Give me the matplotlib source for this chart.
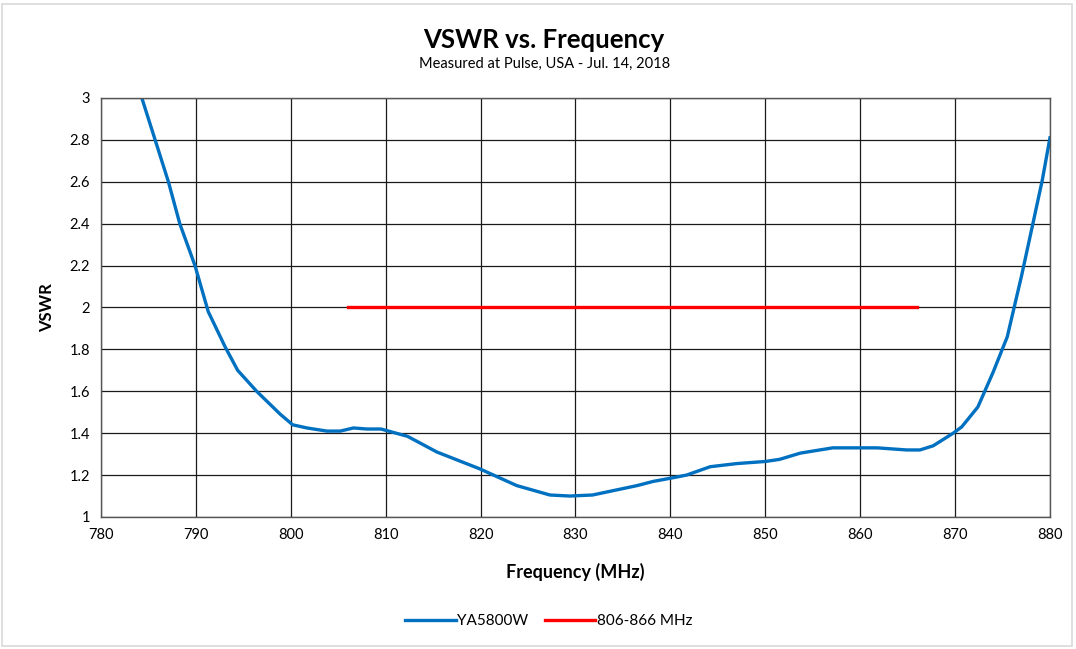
import matplotlib.pyplot as plt
from matplotlib.patches import Rectangle

plt.rcParams['font.family'] = ['Lato', 'DejaVu Sans']

# measured VSWR curve
freq = [784.3, 785.7, 787.1, 788.3, 789.9, 791.3, 793.1, 794.4, 796.4, 798.9,
        800.2, 801.7, 803.8, 805.2, 806.6, 808.0, 809.5, 812.3, 815.4, 819.9,
        823.8, 827.3, 829.4, 831.8, 836.5, 838.2, 840.0, 841.7, 844.2, 847.0,
        850.0, 851.5, 853.7, 857.1, 861.8, 864.9, 866.3, 867.7, 869.8, 870.7,
        872.4, 874.0, 875.5, 877.0, 878.2, 879.2, 880.0]
vswr = [3.00, 2.80, 2.60, 2.40, 2.20, 1.98, 1.81, 1.70, 1.60, 1.49,
        1.44, 1.425, 1.41, 1.41, 1.425, 1.42, 1.42, 1.385, 1.31, 1.23,
        1.15, 1.105, 1.10, 1.105, 1.15, 1.17, 1.185, 1.20, 1.24, 1.255,
        1.265, 1.275, 1.305, 1.33, 1.33, 1.32, 1.32, 1.34, 1.40, 1.43,
        1.525, 1.69, 1.86, 2.15, 2.40, 2.61, 2.81]

band_freq = [806, 866]
band_vswr = [2, 2]

fig = plt.figure(figsize=(10.76, 6.49), dpi=100)
ax = fig.add_axes([0.0939, 0.2034, 0.8819, 0.6456])

ax.plot(freq, vswr, color='#0070C0', linewidth=2.4, label='YA5800W')
ax.plot(band_freq, band_vswr, color='#FF0000', linewidth=2.4, label='806-866 MHz')

ax.set_xlim(780, 880)
ax.set_ylim(1, 3)
ax.set_xticks(range(780, 881, 10))
ax.set_yticks([1, 1.2, 1.4, 1.6, 1.8, 2, 2.2, 2.4, 2.6, 2.8, 3])
ax.set_yticklabels(['1', '1.2', '1.4', '1.6', '1.8', '2', '2.2', '2.4', '2.6', '2.8', '3'])
ax.grid(True, color='#1a1a1a', linewidth=0.9)
ax.set_axisbelow(True)
ax.tick_params(length=0, labelsize=10.5, pad=8)
for s in ax.spines.values():
    s.set_color('#555555')
    s.set_linewidth(1)

ax.set_xlabel('Frequency (MHz)', fontsize=13, fontweight='bold', labelpad=15)
ax.set_ylabel('VSWR', fontsize=12, fontweight='bold', labelpad=10)

fig.text(0.505, 0.938, 'VSWR vs. Frequency', ha='center', va='center',
         fontsize=18.5, fontweight='bold')
fig.text(0.506, 0.901, 'Measured at Pulse, USA - Jul. 14, 2018', ha='center',
         va='center', fontsize=10.5)

fig.legend(loc='center', bbox_to_anchor=(0.51, 0.043), ncol=2, frameon=False,
           fontsize=11, handlelength=3.3, handletextpad=0.1, columnspacing=1.1)

fig.patches.append(Rectangle((0.002, 0.004), 0.994, 0.99, transform=fig.transFigure,
                             fill=False, edgecolor='#d9d9d9', linewidth=1.2))

fig.savefig('out.png', dpi=100)
